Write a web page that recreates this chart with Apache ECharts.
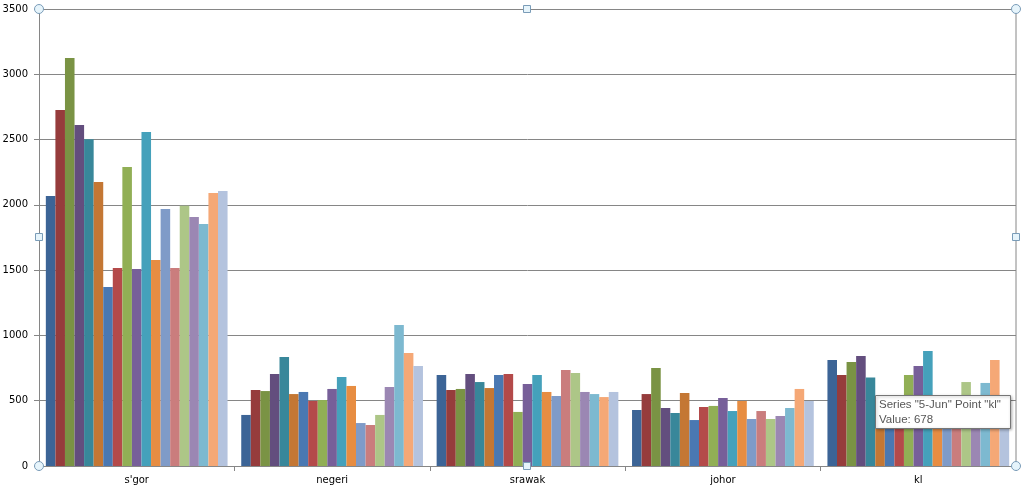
<!DOCTYPE html>
<html>
<head>
<meta charset="utf-8">
<script src="https://cdn.jsdelivr.net/npm/echarts@6/dist/echarts.min.js"></script>
<style>
html,body{margin:0;padding:0;background:#fff;}
#main{width:1023px;height:494px;}
</style>
</head>
<body>
<div id="main"></div>
<script>
// categories on the x axis
var categories = ["s'gor", "negeri", "srawak", "johor", "kl"];
// series names (one per day)
var seriesNames = ["1-Jun","2-Jun","3-Jun","4-Jun","5-Jun","6-Jun","7-Jun","8-Jun","9-Jun","10-Jun",
	"11-Jun","12-Jun","13-Jun","14-Jun","15-Jun","16-Jun","17-Jun","18-Jun","19-Jun"];
// values for each category, in series order
var sgor   = [2068,2727,3125,2612,2502,2175,1371,1516,2290,1509,2558,1578,1968,1516,1994,1907,1853,2091,2106];
var negeri = [391,582,574,705,835,551,567,498,505,590,682,613,329,314,391,605,1080,865,766];
var srawak = [697,582,590,705,643,597,697,705,414,628,697,567,536,735,712,567,551,528,567];
var johor  = [429,551,751,444,406,559,352,452,460,521,421,498,360,421,360,383,444,590,498];
var kl     = [812,697,797,842,678,480,470,460,697,766,881,470,440,450,643,430,636,812,480];
// y axis ticks
var yMin = 0, yMax = 3500, yStep = 500;

var colors = ["#3C6496","#963C3C","#7A9344","#634E7E","#38879A","#C47734","#4A78B2","#B44A4A",
	"#91AF55","#775F99","#45A1BB","#E78D42","#7F9BC8","#CA7D7D","#ADC687","#9B87B3","#7DB9D0",
	"#F5A876","#B4C3DE"];

function build_series(){
	var rows = [sgor, negeri, srawak, johor, kl];
	var arr = [];
	for(var i = 0; i < seriesNames.length; i++){
		var d = [];
		for(var j = 0; j < rows.length; j++){
			d.push(rows[j][i]);
		}
		arr.push({
			name: seriesNames[i],
			type: 'bar',
			data: d,
			barGap: '0%',
			barCategoryGap: '7%',
			itemStyle: {color: colors[i]}
		});
	}
	return arr;
}

// excel selection handles on the plot area
function handles(){
	var L = 39, R = 1016, T = 9, B = 466, mx = 527, my = 237;
	var g = [];
	var circ = [[L,T],[R,T],[L,B],[R,B]];
	for(var i = 0; i < circ.length; i++){
		g.push({type:'circle', shape:{cx:circ[i][0], cy:circ[i][1], r:4.5}, z:100,
			style:{fill:'#e6f4fb', stroke:'#7a9cb8', lineWidth:1}});
	}
	var sq = [[mx,T],[L,my],[R,my],[mx,B]];
	for(var i = 0; i < sq.length; i++){
		g.push({type:'rect', shape:{x:sq[i][0]-3.5, y:sq[i][1]-3.5, width:7, height:7}, z:100,
			style:{fill:'#e6f4fb', stroke:'#7a9cb8', lineWidth:1}});
	}
	// right border of the plot area
	g.push({type:'line', shape:{x1:R, y1:T, x2:R, y2:B}, z:5, style:{stroke:'#868686', lineWidth:1}});
	// tooltip box
	g.push({type:'rect', shape:{x:875.5, y:395.5, width:135, height:33}, z:110,
		style:{fill:'#ffffff', stroke:'#767676', lineWidth:1, shadowBlur:3, shadowColor:'rgba(0,0,0,0.3)', shadowOffsetX:1, shadowOffsetY:1}});
	g.push({type:'text', x:879, y:397, z:111,
		style:{text:'Series "5-Jun" Point "kl"\nValue: 678', fill:'#575757', font:'11.5px "Liberation Sans"', lineHeight:15}});
	return g;
}

var myChart = echarts.init(document.getElementById('main'));
var option = {
	animation: false,
	grid: {left: 39, right: 7, top: 9, bottom: 28, containLabel: false, outerBoundsMode: 'none'},
	xAxis: {
		type: 'category',
		data: categories,
		axisLine: {lineStyle: {color: '#868686'}},
		axisTick: {show: true, length: 5, lineStyle: {color: '#868686'}},
		axisLabel: {color: '#000', fontSize: 10, fontFamily: 'DejaVu Sans', margin: 9}
	},
	yAxis: {
		type: 'value',
		min: yMin, max: yMax, interval: yStep,
		axisLine: {show: true, lineStyle: {color: '#868686'}},
		axisTick: {show: true, length: 5, lineStyle: {color: '#868686'}},
		axisLabel: {color: '#000', fontSize: 10, fontFamily: 'DejaVu Sans', margin: 11,
			formatter: function(v){ return String(v); }},
		splitLine: {lineStyle: {color: '#868686', width: 1}}
	},
	series: build_series(),
	graphic: handles()
};
myChart.setOption(option);
</script>
</body>
</html>
